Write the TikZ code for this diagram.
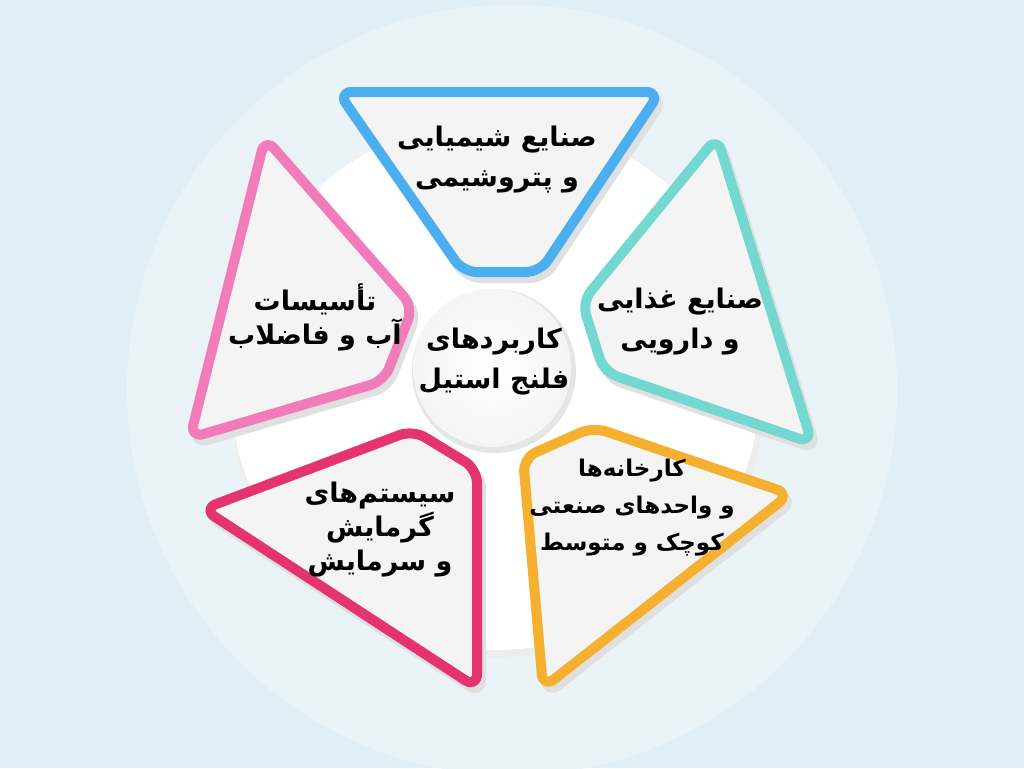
\documentclass[tikz,border=0pt]{standalone}
\usepackage{fontspec}
\newfontfamily\fa[Script=Arabic]{DejaVu Sans}
\TeXXeTstate=1
\definecolor{bg}{HTML}{E2EEF5}
\definecolor{bgl}{HTML}{EAF3F8}
\definecolor{cfill}{HTML}{F4F4F5}
\definecolor{cblue}{HTML}{4BAEF0}
\definecolor{cteal}{HTML}{72D8D0}
\definecolor{corange}{HTML}{F5B030}
\definecolor{cmag}{HTML}{E5336F}
\definecolor{cpink}{HTML}{F27BB9}
\tikzset{
  petal/.style={rounded corners=14pt, line width=10pt, fill=cfill, line join=round},
  shadowp/.style={rounded corners=14pt, line width=10pt, draw=black!12, fill=black!12},
  lbl/.style={font=\fa\bfseries\fontsize{27}{40}\selectfont, align=center, text=black},
}
\begin{document}
\begin{tikzpicture}[x=1pt,y=-1pt]
\fill[bg] (0,0) rectangle (1024,768);
\useasboundingbox (0,0) rectangle (1024,768);
\fill[bgl] (512,390) circle (385);
% white plate
\fill[black!7] (497,389) circle (268);
\fill[white] (495,385) circle (265);
% shadows
\begin{scope}[shift={(4,6)}]
\draw[shadowp] (338,92) -- (660,92) -- (540,272) -- (463,272) -- cycle;
\draw[shadowp] (717,137) -- (812,443) -- (604,372) -- (582,302) -- cycle;
\draw[shadowp] (593,427) -- (790,494) -- (543,688) -- (523,458) -- cycle;
\draw[shadowp] (203,509) -- (413,430) -- (477,469) -- (477,688) -- cycle;
\draw[shadowp] (265,138) -- (413,307) -- (384,381) -- (190,438) -- cycle;
\end{scope}
% petals
\draw[petal, draw=cblue] (338,92) -- (660,92) -- (540,272) -- (463,272) -- cycle;
\draw[petal, draw=cteal] (717,137) -- (812,443) -- (604,372) -- (582,302) -- cycle;
\draw[petal, draw=corange] (593,427) -- (790,494) -- (543,688) -- (523,458) -- cycle;
\draw[petal, draw=cmag] (203,509) -- (413,430) -- (477,469) -- (477,688) -- cycle;
\draw[petal, draw=cpink] (265,138) -- (413,307) -- (384,381) -- (190,438) -- cycle;
% centre disc
\fill[black!10] (494,371) circle (82);
\shade[inner color=white, outer color=black!4] (492,368) circle (79);
\node[lbl] (center) at (494,362) {\beginR کاربردهای\endR\\\beginR فلنج استیل\endR};
\node[lbl] (chem) at (497,160) {\beginR صنایع شیمیایی\endR\\\beginR و پتروشیمی\endR};
\node[lbl] (food) at (680,322) {\beginR صنایع غذایی\endR\\\beginR و دارویی\endR};
\node[lbl, font=\fa\bfseries\fontsize{23}{37}\selectfont] (fact) at (632,508) {\beginR کارخانه‌ها\endR\\\beginR و واحدهای صنعتی\endR\\\beginR کوچک و متوسط\endR};
\node[lbl, font=\fa\bfseries\fontsize{27}{34}\selectfont] (hvac) at (380,530) {\beginR سیستم‌های\endR\\\beginR گرمایش\endR\\\beginR و سرمایش\endR};
\node[lbl, font=\fa\bfseries\fontsize{27}{34}\selectfont] (water) at (315,317) {\beginR تأسیسات\endR\\\beginR آب و فاضلاب\endR};
\end{tikzpicture}
\end{document}
